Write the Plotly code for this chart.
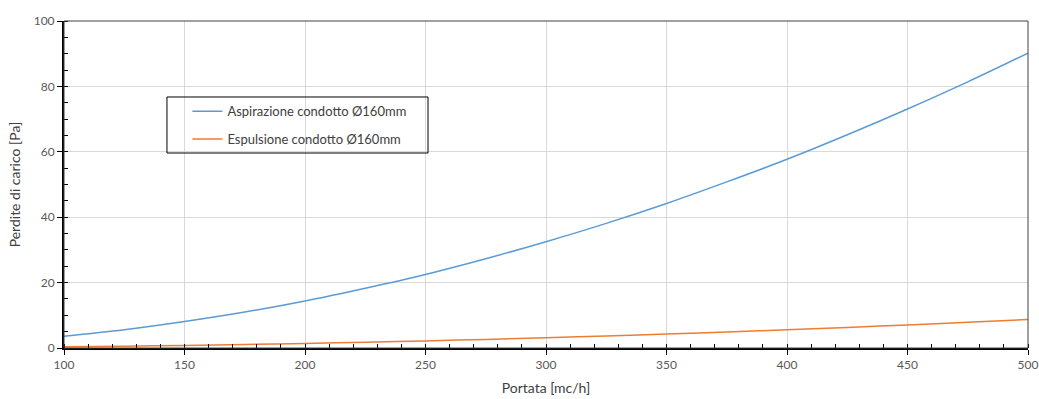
import plotly.graph_objects as go

portata = [100, 125, 150, 175, 200, 225, 250, 275, 300, 325, 350, 375, 400, 425, 450, 475, 500]
aspirazione = [3.6, 5.6, 8.1, 11.0, 14.4, 18.3, 22.5, 27.3, 32.5, 38.1, 44.2, 50.8, 57.7, 65.2, 73.1, 81.4, 90.2]
espulsione = [0.35, 0.54, 0.78, 1.07, 1.39, 1.76, 2.17, 2.63, 3.13, 3.68, 4.26, 4.89, 5.57, 6.29, 7.05, 7.85, 8.7]

name_asp = "Aspirazione condotto Ø160mm"
name_esp = "Espulsione condotto Ø160mm"

FONT = "Lato, Calibri, sans-serif"

fig = go.Figure()
fig.add_trace(go.Scatter(x=portata, y=aspirazione, mode="lines", name=name_asp,
                         line=dict(color="#5B9BD5", width=1.5, shape="spline"),
                         legendgroup="a"))
fig.add_trace(go.Scatter(x=portata, y=espulsione, mode="lines", name=name_esp,
                         line=dict(color="#ED7D31", width=1.5, shape="spline"),
                         legendgroup="b"))

fig.update_layout(
    width=1039, height=399,
    margin=dict(l=64, r=11, t=21, b=51, autoexpand=False),
    paper_bgcolor="white", plot_bgcolor="white",
    font=dict(family=FONT, size=12, color="#595959"),
    showlegend=True,
    legend=dict(x=0.128, y=0.77, xanchor="left", yanchor="top",
                bgcolor="rgba(0,0,0,0)", borderwidth=0,
                font=dict(family=FONT, size=13, color="#404040"),
                traceorder="grouped", tracegroupgap=8, itemwidth=30),
    xaxis=dict(range=[100, 500], tickmode="linear", tick0=100, dtick=50,
               automargin=False, ticklabeloverflow="allow",
               showgrid=True, gridcolor="#D9D9D9", gridwidth=1,
               showline=True, linecolor="black", linewidth=2,
               ticks="outside", ticklen=5, tickcolor="black", tickwidth=1,
               zeroline=False,
               minor=dict(dtick=10, ticks="inside", ticklen=4, tickcolor="black", showgrid=False),
               title=dict(text="Portata [mc/h]", font=dict(size=14, color="#404040"), standoff=12),
               tickfont=dict(size=12, color="#595959")),
    yaxis=dict(range=[0, 100], tickmode="linear", tick0=0, dtick=20,
               automargin=False, ticklabeloverflow="allow",
               showgrid=True, gridcolor="#D9D9D9", gridwidth=1,
               showline=True, linecolor="black", linewidth=2,
               ticks="outside", ticklen=5, tickcolor="black", tickwidth=1,
               zeroline=False,
               minor=dict(dtick=5, ticks="inside", ticklen=4, tickcolor="black", showgrid=False),
               title=dict(text="Perdite di carico [Pa]", font=dict(size=14, color="#404040"), standoff=10),
               tickfont=dict(size=12, color="#595959")),
    shapes=[
        dict(type="rect", xref="paper", yref="paper", x0=0, x1=1, y0=0, y1=1,
             line=dict(color="#404040", width=1), layer="above"),
        dict(type="rect", xref="paper", yref="paper", x0=0.1068, x1=0.3776, y0=0.5963, y1=0.7676,
             line=dict(color="black", width=1), fillcolor="rgba(0,0,0,0)", layer="above"),
    ],
)

# remove the default page margin so the 1039x399 figure fills the window exactly
fig.write_html("out.html",
               config={"displayModeBar": False},
               post_script="document.body.style.margin='0';document.body.style.overflow='hidden';")
